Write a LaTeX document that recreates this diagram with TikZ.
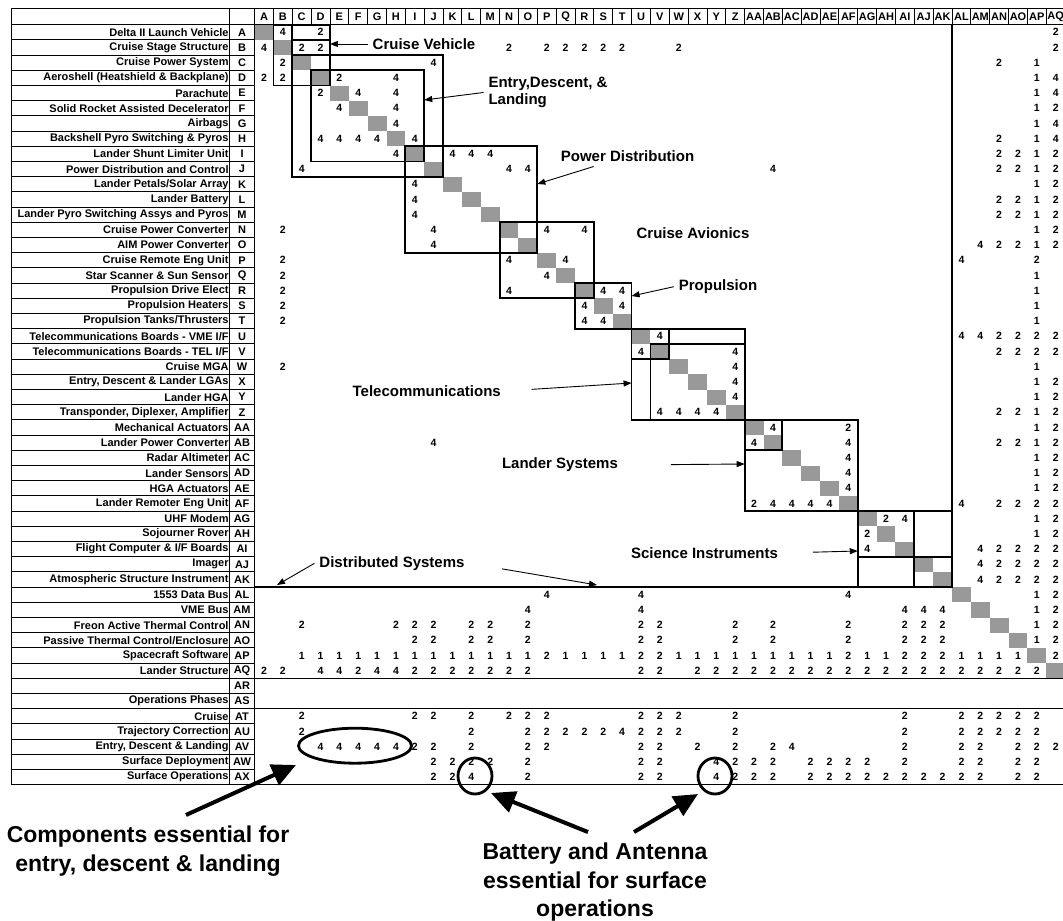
\documentclass[tikz,border=0pt]{standalone}
\usepackage{fontspec}
\setmainfont{Liberation Sans}
\usetikzlibrary{arrows.meta,shapes.geometric}
\definecolor{cellgray}{gray}{0.6}
\tikzset{
  rowlabel/.style={anchor=east, inner sep=0pt, font=\bfseries\fontsize{11}{13}\selectfont},
  rowcode/.style={inner sep=0pt, font=\bfseries\fontsize{11}{13}\selectfont},
  colhead/.style={inner sep=0pt, font=\bfseries\fontsize{11}{13}\selectfont},
  cellnum/.style={inner sep=0pt, font=\bfseries\fontsize{10.5}{12}\selectfont},
  diagcell/.style={fill=cellgray, minimum width=18.85pt, minimum height=15.2pt, inner sep=0pt, outer sep=0pt},
  gridline/.style={line width=0.9pt},
  bandline/.style={line width=1.3pt},
  groupbox/.style={line width=1.8pt},
  boxnote/.style={font=\bfseries\fontsize{15}{17}\selectfont, inner sep=1pt, outer sep=4pt},
  pointer/.style={-{Triangle[length=8pt,width=6pt]}, line width=0.9pt},
  bignote/.style={font=\bfseries\fontsize{23}{28.5}\selectfont, align=center, inner sep=1pt, outer sep=10pt},
  bigpointer/.style={-{Triangle[length=24pt,width=22pt]}, line width=4pt},
  ring/.style={draw, ellipse, line width=2.8pt, inner sep=0pt}
}
\begin{document}
\begin{tikzpicture}[x=1pt,y=1pt]
\path[use as bounding box, fill=white] (0,0) rectangle (1063,-921);

\begin{scope}[shift={(245.15pt,-17.1pt)}, x=18.85pt, y=-15.2pt]
  \foreach \row in {1,...,43}
    \node[diagcell] (D-\row) at (\row,\row) {};

  \foreach \row/\cells in {
    1/{2/4,4/2,43/2},
    2/{1/4,3/2,4/2,14/2,16/2,17/2,18/2,19/2,20/2,23/2,43/2},
    3/{2/2,10/4,40/2,42/1},
    4/{1/2,2/2,5/2,8/4,42/1,43/4},
    5/{4/2,6/4,8/4,42/1,43/4},
    6/{5/4,8/4,42/1,43/2},
    7/{8/4,42/1,43/4},
    8/{4/4,5/4,6/4,7/4,9/4,40/2,42/1,43/4},
    9/{8/4,11/4,12/4,13/4,40/2,41/2,42/1,43/2},
    10/{3/4,14/4,15/4,28/4,40/2,41/2,42/1,43/2},
    11/{9/4,42/1,43/2},
    12/{9/4,40/2,41/2,42/1,43/2},
    13/{9/4,40/2,41/2,42/1,43/2},
    14/{2/2,10/4,16/4,18/4,42/1,43/2},
    15/{10/4,39/4,40/2,41/2,42/1,43/2},
    16/{2/2,14/4,17/4,38/4,42/2},
    17/{2/2,16/4,42/1},
    18/{2/2,14/4,19/4,20/4,42/1},
    19/{2/2,18/4,20/4,42/1},
    20/{2/2,18/4,19/4,42/1},
    21/{22/4,38/4,39/4,40/2,41/2,42/2,43/2},
    22/{21/4,26/4,40/2,41/2,42/2,43/2},
    23/{2/2,26/4,42/1},
    24/{26/4,42/1,43/2},
    25/{26/4,42/1,43/2},
    26/{22/4,23/4,24/4,25/4,40/2,41/2,42/1,43/2},
    27/{28/4,32/2,42/1,43/2},
    28/{10/4,27/4,32/4,40/2,41/2,42/1,43/2},
    29/{32/4,42/1,43/2},
    30/{32/4,42/1,43/2},
    31/{32/4,42/1,43/2},
    32/{27/2,28/4,29/4,30/4,31/4,38/4,40/2,41/2,42/2,43/2},
    33/{34/2,35/4,42/1,43/2},
    34/{33/2,42/1,43/2},
    35/{33/4,39/4,40/2,41/2,42/2,43/2},
    36/{39/4,40/2,41/2,42/2,43/2},
    37/{39/4,40/2,41/2,42/2,43/2},
    38/{16/4,21/4,32/4,42/1,43/2},
    39/{15/4,21/4,35/4,36/4,37/4,42/1,43/2},
    40/{3/2,8/2,9/2,10/2,12/2,13/2,15/2,21/2,22/2,26/2,28/2,32/2,35/2,36/2,37/2,42/1,43/2},
    41/{9/2,10/2,12/2,13/2,15/2,21/2,22/2,26/2,28/2,32/2,35/2,36/2,37/2,42/1,43/2},
    42/{3/1,4/1,5/1,6/1,7/1,8/1,9/1,10/1,11/1,12/1,13/1,14/1,15/1,16/2,17/1,18/1,19/1,20/1,21/2,22/2,23/1,24/1,25/1,26/1,27/1,28/1,29/1,30/1,31/1,32/2,33/1,34/1,35/2,36/2,37/2,38/1,39/1,40/1,41/1,43/2},
    43/{1/2,2/2,4/4,5/4,6/2,7/4,8/4,9/2,10/2,11/2,12/2,13/2,14/2,15/2,21/2,22/2,24/2,25/2,26/2,27/2,28/2,29/2,30/2,31/2,32/2,33/2,34/2,35/2,36/2,37/2,38/2,39/2,40/2,41/2,42/2},
    46/{3/2,9/2,10/2,12/2,14/2,15/2,16/2,21/2,22/2,23/2,26/2,35/2,38/2,39/2,40/2,41/2,42/2},
    47/{3/2,12/2,15/2,16/2,17/2,18/2,19/2,20/4,21/2,22/2,23/2,26/2,35/2,38/2,39/2,40/2,41/2,42/2},
    48/{4/4,5/4,6/4,7/4,8/4,9/2,10/2,12/2,15/2,16/2,21/2,22/2,24/2,26/2,28/2,29/4,35/2,38/2,39/2,41/2,42/2,43/2},
    49/{10/2,11/2,12/2,13/2,15/2,21/2,22/2,25/4,26/2,27/2,28/2,30/2,31/2,32/2,33/2,35/2,38/2,39/2,41/2,42/2},
    50/{10/2,11/2,12/4,15/2,21/2,22/2,25/4,26/2,27/2,28/2,30/2,31/2,32/2,33/2,34/2,35/2,36/2,37/2,38/2,39/2,41/2,42/2}}{
    \foreach \col/\val in \cells
      \node[cellnum] (M-\row-\col) at (\col,\row) {\val};
  }

  \foreach \lettr [count=\col] in {A,B,C,D,E,F,G,H,I,J,K,L,M,N,O,P,Q,R,S,T,U,V,W,X,Y,Z,AA,AB,AC,AD,AE,AF,AG,AH,AI,AJ,AK,AL,AM,AN,AO,AP,AQ}
    \node[colhead] (H-\col) at (\col,0) {\lettr};

  \foreach \lettr/\lbltxt [count=\row] in {
    A/{Delta II Launch Vehicle}, B/{Cruise Stage Structure}, C/{Cruise Power System},
    D/{Aeroshell (Heatshield \& Backplane)}, E/{Parachute}, F/{Solid Rocket Assisted Decelerator},
    G/{Airbags}, H/{Backshell Pyro Switching \& Pyros}, I/{Lander Shunt Limiter Unit},
    J/{Power Distribution and Control}, K/{Lander Petals/Solar Array}, L/{Lander Battery},
    M/{Lander Pyro Switching Assys and Pyros}, N/{Cruise Power Converter}, O/{AIM Power Converter},
    P/{Cruise Remote Eng Unit}, Q/{Star Scanner \& Sun Sensor}, R/{Propulsion Drive Elect},
    S/{Propulsion Heaters}, T/{Propulsion Tanks/Thrusters}, U/{Telecommunications Boards - VME I/F},
    V/{Telecommunications Boards - TEL I/F}, W/{Cruise MGA}, X/{Entry, Descent \& Lander LGAs},
    Y/{Lander HGA}, Z/{Transponder, Diplexer, Amplifier}, AA/{Mechanical Actuators},
    AB/{Lander Power Converter}, AC/{Radar Altimeter}, AD/{Lander Sensors}, AE/{HGA Actuators},
    AF/{Lander Remoter Eng Unit}, AG/{UHF Modem}, AH/{Sojourner Rover},
    AI/{Flight Computer \& I/F Boards}, AJ/{Imager}, AK/{Atmospheric Structure Instrument},
    AL/{1553 Data Bus}, AM/{VME Bus}, AN/{Freon Active Thermal Control},
    AO/{Passive Thermal Control/Enclosure}, AP/{Spacecraft Software}, AQ/{Lander Structure},
    AR/{}, AS/{Operations Phases}, AT/{Cruise}, AU/{Trajectory Correction},
    AV/{Entry, Descent \& Landing}, AW/{Surface Deployment}, AX/{Surface Operations}}{
    \node[rowcode] (C-\row) at (-0.165,\row) {\lettr};
    \node[rowlabel] (L-\row) at (-0.87,\row) {\lbltxt};
  }

  \draw[gridline] (-12.42,-0.566) rectangle (0.5,50.5);
  \draw[gridline] (-0.83,-0.566) -- (-0.83,50.5);
  \foreach \row in {0,...,49}
    \draw[gridline] (-12.42,\row+0.5) -- (0.5,\row+0.5);
  \draw[gridline] (0.5,-0.566) -- (43.5,-0.566);
  \draw[gridline] (0.5,0.5) -- (43.5,0.5);
  \foreach \col in {1,...,43}
    \draw[gridline] (\col+0.5,-0.566) -- (\col+0.5,0.5);
  \foreach \row in {43,45,50}
    \draw[bandline] (0.5,\row+0.5) -- (43.5,\row+0.5);

  \draw[groupbox] (D-2.west |- D-1.north) rectangle (D-4.south east);
  \draw[groupbox] (D-3.west |- D-1.north) -- (D-3.north west);
  \draw[groupbox] (D-3.west |- D-2.north) -- (D-4.east |- D-2.north);
  \foreach \a/\b in {3/10,4/9,9/15,14/18,18/20,21/26,21/22,22/26,27/32,27/28,33/37}
    \draw[groupbox] (D-\a.north west) rectangle (D-\b.south east);
  \draw[groupbox] (D-35.east |- D-33.north) -- (D-35.east |- D-37.south);
  \draw[groupbox] (D-33.west |- D-35.south) -- (D-37.east |- D-35.south);
  \draw[groupbox] (D-37.east |- D-1.north) -- (D-37.south east) -- (D-1.west |- D-37.south);
\end{scope}

\node[boxnote] (cvNote) at (424,-44) {Cruise Vehicle};
\node[boxnote, align=left] (edlNote) at (548,-92.5) {Entry,Descent, \&\\Landing};
\node[boxnote] (pdNote) at (627.5,-156) {Power Distribution};
\node[boxnote] (caNote) at (693,-232.7) {Cruise Avionics};
\node[boxnote] (prNote) at (718,-286.7) {Propulsion};
\node[boxnote] (tcNote) at (426.7,-391) {Telecommunications};
\node[boxnote] (lsNote) at (560,-465) {Lander Systems};
\node[boxnote] (siNote) at (704.5,-553) {Science Instruments};
\node[boxnote] (dsNote) at (392,-563.3) {Distributed Systems};

\coordinate (cvTip) at (D-4.east |- cvNote);
\coordinate (edlTip) at (D-9.east |- 0,-100);
\coordinate (pdTip) at (D-15.east |- 0,-184);
\coordinate (prTip) at (D-20.east |- 0,-296);
\coordinate (tcTip) at (D-21.west |- 0,-383);
\coordinate (lsTip) at (D-27.west |- 0,-464);
\coordinate (siTip) at (D-33.west |- 0,-551);
\coordinate (dsTipL) at (277,-585);
\coordinate (dsTipR) at (597,-585);

\draw[pointer] (cvNote.west) -- (cvTip);
\draw[pointer] (edlNote.west) -- (edlTip);
\draw[pointer] (pdNote) -- (pdTip);
\draw[pointer] (prNote.west) -- (prTip);
\draw[pointer, shorten <=26pt] (tcNote.east) -- (tcTip);
\draw[pointer, shorten <=48pt] (lsNote.east) -- (lsTip);
\draw[pointer, shorten <=30pt] (siNote.east) -- (siTip);
\draw[pointer] (dsNote.west) -- (dsTipL);
\draw[pointer, shorten <=33pt] (dsNote.east) -- (dsTipR);

\node[ring, minimum width=113pt, minimum height=35pt] (edlOval) at (355,-745.7) {};
\node[ring, minimum width=34pt, minimum height=36pt] (batRing) at (475,-776) {};
\node[ring, minimum width=34pt, minimum height=36pt] (antRing) at (715,-776) {};

\node[bignote] (compNote) at (148,-851) {Components essential for\\entry, descent \& landing};
\node[bignote] (batNote) at (595,-882.25) {Battery and Antenna\\essential for surface\\operations};
\coordinate (compTip) at (296,-765);
\coordinate (batTip) at (491,-793);
\coordinate (antTip) at (698,-794);

\draw[bigpointer] ([xshift=38pt]compNote.north) -- (compTip);
\draw[bigpointer] ([xshift=-7pt]batNote.north) -- (batTip);
\draw[bigpointer] ([xshift=39pt]batNote.north) -- (antTip);
\end{tikzpicture}
\end{document}
